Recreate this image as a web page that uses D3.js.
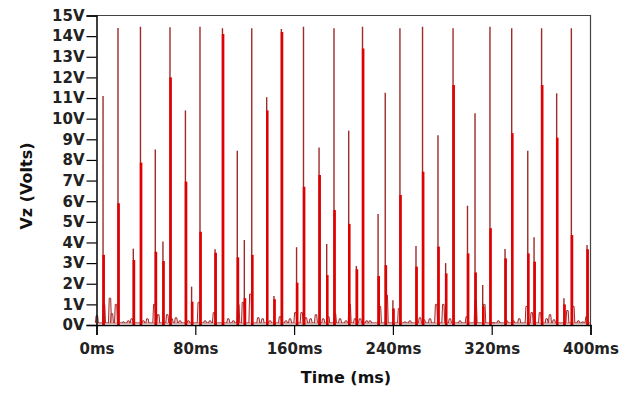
<!DOCTYPE html>
<html><head><meta charset="utf-8">
<script src="https://cdn.jsdelivr.net/npm/d3@7"></script>
<style>html,body{margin:0;padding:0;background:#fff;}svg{display:block;}</style>
</head><body>
<svg id="chart" width="619" height="397"></svg>
<script>
// ---- data ----
const xTicks = [0, 80, 160, 240, 320, 400];
const xTickLabels = ["0ms", "80ms", "160ms", "240ms", "320ms", "400ms"];
const yTicks = [0,1,2,3,4,5,6,7,8,9,10,11,12,13,14,15];
const yTickLabels = ["0V","1V","2V","3V","4V","5V","6V","7V","8V","9V","10V","11V","12V","13V","14V","15V"];

// spikes: time (ms), peak voltage (thin trace), dense core voltage (thick trace)
const spikeTime = [5.3, 17.4, 29.8, 35.6, 47.6, 53.8, 59.5, 72.0, 77.0, 83.8, 96.0, 102.0, 114.0, 119.7, 125.7, 137.8, 143.7, 149.7, 162.0, 167.6, 180.2, 186.4, 192.3, 204.2, 210.4, 215.4, 228.0, 233.8, 240.0, 245.7, 258.7, 264.0, 276.5, 282.7, 288.7, 300.4, 306.5, 312.7, 318.6, 330.8, 336.2, 349.2, 354.3, 360.4, 372.6, 378.5, 384.5, 397.2];
const spikePeak = [11.1, 14.4, 3.7, 14.45, 8.5, 4.05, 14.43, 10.4, 1.86, 14.45, 3.67, 14.38, 8.45, 4.12, 14.38, 11.04, 1.4, 14.35, 3.77, 14.45, 8.6, 3.93, 14.38, 9.42, 2.86, 14.45, 5.38, 11.26, 1.2, 14.38, 3.83, 14.45, 9.2, 3.0, 14.38, 5.78, 10.26, 1.94, 14.45, 3.68, 14.38, 8.45, 4.25, 14.38, 11.23, 1.3, 14.38, 3.88];
const spikeCore = [3.4, 5.9, 3.15, 7.87, 3.55, 3.1, 12.0, 6.95, 1.13, 4.52, 3.5, 14.1, 3.28, 1.3, 3.4, 10.4, 1.25, 14.2, 2.05, 6.7, 7.27, 2.42, 5.57, 4.9, 2.7, 13.4, 2.37, 2.9, 0.8, 6.3, 2.83, 7.43, 3.8, 2.5, 11.63, 3.47, 2.55, 0.9, 4.69, 3.23, 9.3, 3.47, 3.07, 11.63, 9.08, 1.0, 4.36, 3.67];

// small ripples along the baseline: time (ms), height (V)
const bumpTime = [0.3, 6.1, 10.9, 12.5, 15.8, 21.7, 25.8, 28.5, 37.9, 41.2, 46.8, 50, 57.3, 60.9, 64.4, 67.6, 74.4, 82.8, 87.9, 91.9, 95.1, 106.7, 110.8, 114.8, 118.6, 124.6, 131, 134.5, 140.5, 148.6, 153.4, 156.7, 161, 166.1, 169.6, 173.4, 177.7, 183.6, 187.7, 193.1, 197.2, 202, 205, 209.3, 213.4, 218.8, 221.5, 229.5, 235, 245, 249.8, 253.8, 261.9, 265.2, 270, 275, 280.8, 286.2, 294.3, 299.8, 307, 314, 321.3, 325.4, 332.2, 337.5, 342.3, 348.3, 352.4, 359.1, 364.5, 367.2, 370.4, 381.3, 386.1, 390.2, 393.7, 396.8];
const bumpHeight = [0.45, 1.0, 1.3, 0.55, 1.0, 0.15, 0.2, 0.3, 0.2, 0.3, 1.0, 0.5, 0.5, 0.3, 0.35, 0.2, 0.2, 1.1, 0.2, 0.2, 0.6, 0.3, 0.2, 1.0, 1.1, 1.5, 0.35, 0.3, 0.2, 0.4, 0.2, 0.3, 0.6, 0.6, 0.35, 0.3, 0.5, 0.3, 0.4, 0.55, 0.3, 0.2, 1.0, 0.3, 0.3, 0.2, 0.2, 0.9, 1.45, 0.8, 0.15, 0.2, 0.35, 0.25, 0.3, 1.0, 1.0, 0.3, 0.2, 0.4, 1.2, 1.0, 0.1, 0.2, 0.2, 0.2, 0.3, 0.9, 0.6, 0.6, 0.3, 0.5, 0.25, 0.7, 0.9, 0.2, 0.15, 0.4];

const baseLevel = 0.1;

// ---- layout ----
const svg = d3.select("#chart");
const mLeft = 96.5, mRight = 590.5, mTop = 15.5, mBottom = 325;
const x = d3.scaleLinear().domain([0, 400]).range([mLeft, mRight]);
const y = d3.scaleLinear().domain([0, 15]).range([mBottom, mTop]);
const font = "'DejaVu Sans', sans-serif";

const thinColor = "#9e2a2a";
const coreColor = "#e00000";

// frame (top and right)
svg.append("path")
  .attr("d", `M${mLeft},${mTop}H${mRight}V${mBottom}`)
  .attr("fill", "none").attr("stroke", "#444").attr("stroke-width", 1.2);

const plot = svg.append("g");

// baseline
plot.append("path")
  .datum([0, 400])
  .attr("d", d3.line().x(d => x(d)).y(() => y(baseLevel)))
  .attr("stroke", thinColor).attr("stroke-width", 1).attr("fill", "none");

// ripples
const bumps = bumpTime.map((t, i) => ({t, v: bumpHeight[i]}));
const bumpLine = d3.line().x(d => x(d[0])).y(d => y(d[1]));
plot.selectAll(".bump").data(bumps).join("path")
  .attr("class", "bump")
  .attr("d", d => bumpLine([[d.t - 1.2, baseLevel], [d.t - 0.6, d.v], [d.t + 0.6, d.v], [d.t + 1.2, baseLevel]]))
  .attr("fill", "#f6d0d0").attr("fill-opacity", 0.6)
  .attr("stroke", thinColor).attr("stroke-width", 1);

// spikes
const spikes = spikeTime.map((t, i) => ({t, peak: spikePeak[i], core: spikeCore[i]}));
plot.selectAll(".spike-thin").data(spikes).join("line")
  .attr("class", "spike-thin")
  .attr("x1", d => x(d.t)).attr("x2", d => x(d.t))
  .attr("y1", y(0)).attr("y2", d => y(d.peak))
  .attr("stroke", thinColor).attr("stroke-width", 1.4);
plot.selectAll(".spike-core").data(spikes).join("line")
  .attr("class", "spike-core")
  .attr("x1", d => x(d.t) + 0.6).attr("x2", d => x(d.t) + 0.6)
  .attr("y1", y(0)).attr("y2", d => y(d.core))
  .attr("stroke", coreColor).attr("stroke-width", 2.6);

// y axis
const yAxis = d3.axisLeft(y).tickValues(yTicks).tickSize(10).tickPadding(2)
  .tickFormat((d, i) => yTickLabels[i]);
const gy = svg.append("g").attr("transform", `translate(${mLeft},0)`).call(yAxis);
gy.select(".domain").attr("stroke", "#000").attr("stroke-width", 1.5);
gy.selectAll(".tick line").attr("stroke", "#000").attr("stroke-width", 1.2);
gy.selectAll(".tick text").attr("font-family", font).attr("font-weight", "bold")
  .attr("font-size", 15).attr("fill", "#222");

// x axis
const xAxis = d3.axisBottom(x).tickValues(xTicks).tickSize(10).tickPadding(8)
  .tickFormat((d, i) => xTickLabels[i]);
const gx = svg.append("g").attr("transform", `translate(0,${mBottom})`).call(xAxis);
gx.select(".domain").attr("stroke", "#000").attr("stroke-width", 1.5);
gx.selectAll(".tick line").attr("stroke", "#000").attr("stroke-width", 1.2);
gx.selectAll(".tick text").attr("font-family", font).attr("font-weight", "bold")
  .attr("font-size", 15).attr("fill", "#222");

// titles
svg.append("text").attr("x", 346).attr("y", 383).attr("text-anchor", "middle")
  .attr("font-family", font).attr("font-weight", "bold").attr("font-size", 16).attr("fill", "#111")
  .text("Time (ms)");
svg.append("text").attr("transform", "translate(32,186) rotate(-90)").attr("text-anchor", "middle")
  .attr("font-family", font).attr("font-weight", "bold").attr("font-size", 16).attr("fill", "#111")
  .text("Vz (Volts)");
</script>
</body></html>
